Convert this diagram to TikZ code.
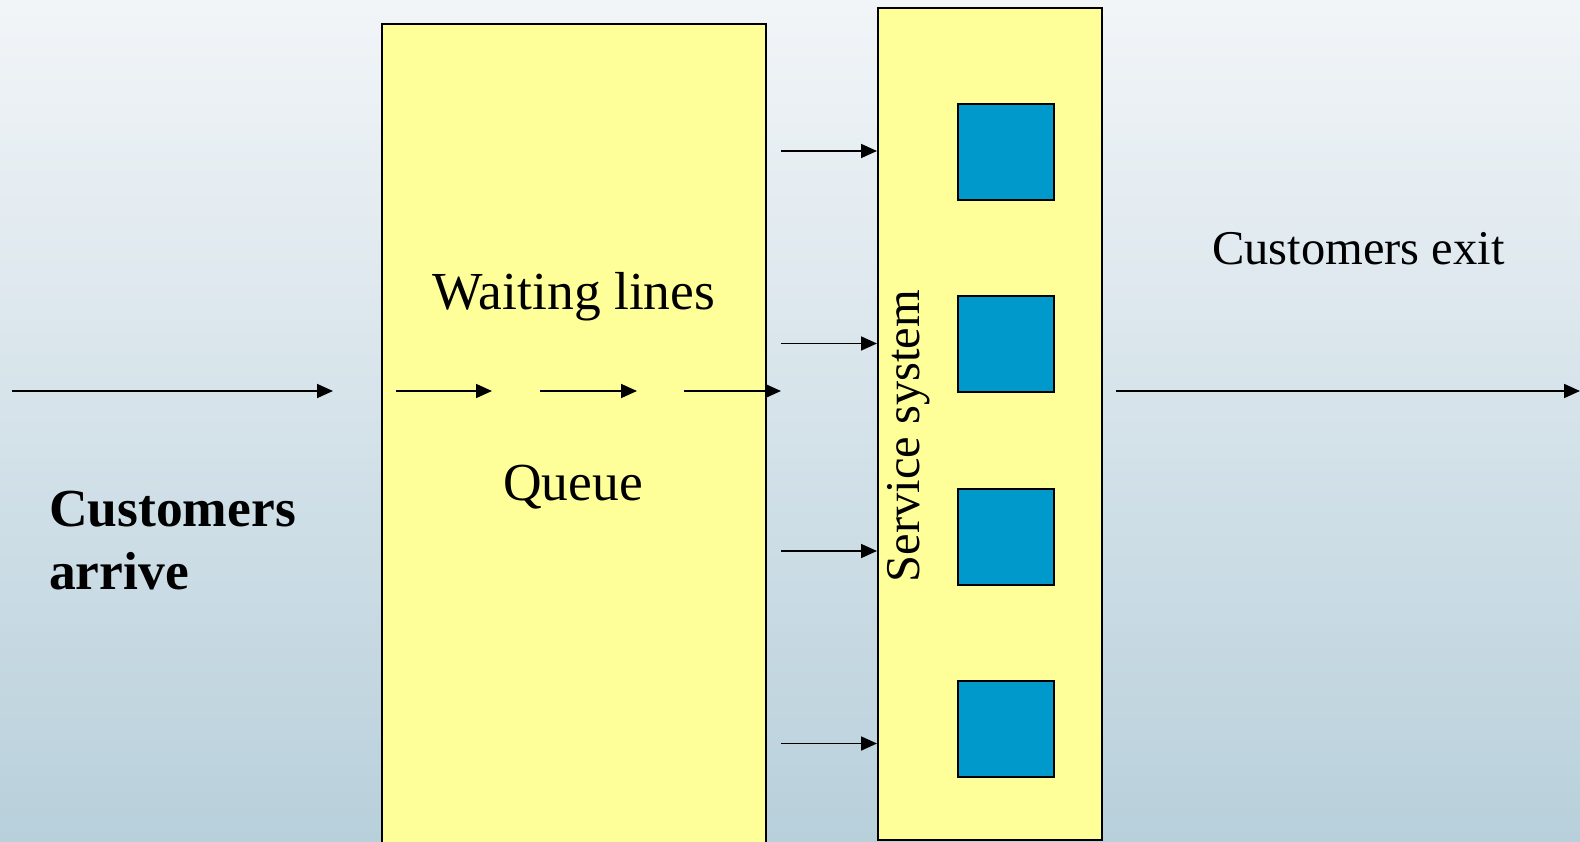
\documentclass[tikz,border=0pt]{standalone}
\usepackage{fontspec}
\setmainfont{Liberation Serif}
\usetikzlibrary{arrows.meta}
\definecolor{bgtop}{RGB}{242,245,248}
\definecolor{bgbot}{RGB}{184,208,219}
\definecolor{boxyellow}{RGB}{255,255,153}
\definecolor{serverblue}{RGB}{0,153,204}
\begin{document}
\begin{tikzpicture}[x=1pt,y=-1pt,
  flow/.style={line width=1.8pt,-{Triangle[length=16pt,width=14pt]}},
  panel/.style={draw=black,line width=2pt,fill=boxyellow,inner sep=0pt,anchor=north west},
  server/.style={draw=black,line width=2pt,fill=serverblue,minimum size=96pt,inner sep=0pt,anchor=north west},
  biglbl/.style={font=\fontsize{53.5}{63}\selectfont,inner sep=0pt},
  midlbl/.style={font=\fontsize{48.5}{58}\selectfont,inner sep=0pt}]
\useasboundingbox (0,0) rectangle (1580,842);
\clip (0,0) rectangle (1580,842);
\shade[top color=bgtop,bottom color=bgbot] (0,0) rectangle (1580,842);
% panels
\node[panel,minimum width=384pt,minimum height=840pt] (queue) at (381,23) {};
\node[panel,minimum width=224pt,minimum height=832pt] (service) at (877,7) {};
% servers
\node[server] (s1) at (957,103) {};
\node[server] (s2) at (957,295) {};
\node[server] (s3) at (957,488) {};
\node[server] (s4) at (957,680) {};
% arrow end points
\coordinate (in0) at (12,391);
\coordinate (in1) at (333,391);
\coordinate (q0) at (396,391);
\coordinate (q1) at (492,391);
\coordinate (q2) at (540,391);
\coordinate (q3) at (637,391);
\coordinate (q4) at (684,391);
\coordinate (q5) at (781,391);
\coordinate (out0) at (1116,391);
\coordinate (out1) at (1580,391);
\coordinate (f1) at (781,151);
\coordinate (f2) at (781,343.5);
\coordinate (f3) at (781,551);
\coordinate (f4) at (781,743.5);
\draw[flow] (in0) -- (in1);
\draw[flow] (q0) -- (q1);
\draw[flow] (q2) -- (q3);
\draw[flow] (q4) -- (q5);
\draw[flow] (out0) -- (out1);
\draw[flow] (f1) -- (f1 -| service.west);
\draw[flow] (f2) -- (f2 -| service.west);
\draw[flow] (f3) -- (f3 -| service.west);
\draw[flow] (f4) -- (f4 -| service.west);
% labels
\node[biglbl,anchor=base] (waitlbl) at (574,310) {Waiting lines};
\node[biglbl,anchor=base] (queuelbl) at (573,500) {Queue};
\node[midlbl,anchor=base west] (exitlbl) at (1212,265) {Customers exit};
\node[midlbl,anchor=base,rotate=90] (svclbl) at (919,436) {Service system};
\node[font=\bfseries\fontsize{53.5}{63}\selectfont,inner sep=0pt,align=left,anchor=base west] (arrivelbl) at (49,589) {Customers\\arrive};
\end{tikzpicture}
\end{document}
